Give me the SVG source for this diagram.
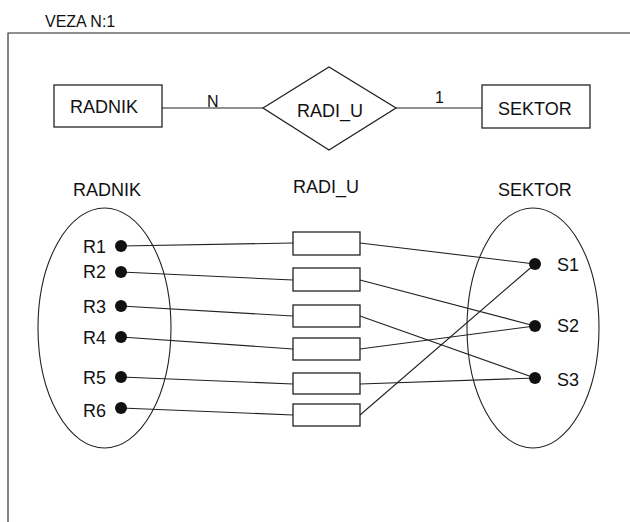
<svg xmlns="http://www.w3.org/2000/svg" width="630" height="522" viewBox="0 0 630 522">
<style>
text{font-family:"Liberation Sans",Arial,sans-serif;fill:#111}
.t{font-size:18px}
.s{font-size:16px}
.sh{fill:#fff;stroke:#222;stroke-width:1.3}
.ln{stroke:#222;stroke-width:1.1;fill:none}
.dot{fill:#111}
</style>
<rect width="630" height="522" fill="#fff"/>
<g id="frame">
<text class="s" x="45" y="27">VEZA N:1</text>
<path class="ln" d="M8,522 V33 H630" stroke-width="1.3"/>
</g>
<g id="connectors">
<line class="ln" x1="162" y1="108" x2="263" y2="108"/>
<line class="ln" x1="396" y1="108" x2="482" y2="108"/>
<line class="ln" x1="121" y1="246" x2="293" y2="243"/>
<line class="ln" x1="121" y1="272" x2="293" y2="280"/>
<line class="ln" x1="121" y1="306" x2="293" y2="316"/>
<line class="ln" x1="121" y1="337" x2="293" y2="349"/>
<line class="ln" x1="121" y1="377" x2="293" y2="384"/>
<line class="ln" x1="121" y1="408" x2="293" y2="415"/>
<line class="ln" x1="360" y1="243" x2="535" y2="264"/>
<line class="ln" x1="360" y1="280" x2="535" y2="326"/>
<line class="ln" x1="360" y1="316" x2="535" y2="378"/>
<line class="ln" x1="360" y1="349" x2="535" y2="326"/>
<line class="ln" x1="360" y1="384" x2="535" y2="378"/>
<line class="ln" x1="360" y1="415" x2="535" y2="264"/>
<text class="s" x="207" y="107">N</text>
<text class="s" x="435" y="103">1</text>
</g>
<g id="radnik">
<rect class="sh" x="54" y="85" width="108" height="42"/>
<text class="t" x="70" y="113">RADNIK</text>
</g>
<g id="radi_u">
<polygon class="sh" points="263,108 329,67 396,108 329,150"/>
<text class="t" x="297" y="117">RADI_U</text>
</g>
<g id="sektor">
<rect class="sh" x="482" y="85" width="108" height="43"/>
<text class="t" x="498" y="115">SEKTOR</text>
</g>
<g id="radnik-set">
<text class="t" x="73" y="196">RADNIK</text>
<ellipse class="ln" cx="104.5" cy="328" rx="66.5" ry="120"/>
<circle class="dot" cx="121" cy="246" r="6"/>
<circle class="dot" cx="121" cy="272" r="6"/>
<circle class="dot" cx="121" cy="306" r="6"/>
<circle class="dot" cx="121" cy="337" r="6"/>
<circle class="dot" cx="121" cy="377" r="6"/>
<circle class="dot" cx="121" cy="408" r="6"/>
<text class="t" x="83" y="253">R1</text>
<text class="t" x="83" y="278">R2</text>
<text class="t" x="83" y="313">R3</text>
<text class="t" x="83" y="344">R4</text>
<text class="t" x="83" y="384">R5</text>
<text class="t" x="83" y="417">R6</text>
</g>
<g id="radi_u-set">
<text class="t" x="293" y="193">RADI_U</text>
<rect class="sh" x="293" y="232" width="67" height="23"/>
<rect class="sh" x="293" y="268" width="67" height="23"/>
<rect class="sh" x="293" y="305" width="67" height="22"/>
<rect class="sh" x="293" y="338" width="67" height="22"/>
<rect class="sh" x="293" y="373" width="67" height="21"/>
<rect class="sh" x="293" y="404" width="67" height="22"/>
</g>
<g id="sektor-set">
<text class="t" x="498" y="196">SEKTOR</text>
<ellipse class="ln" cx="533" cy="328" rx="66" ry="120"/>
<circle class="dot" cx="535" cy="264" r="6"/>
<circle class="dot" cx="535" cy="326" r="6"/>
<circle class="dot" cx="535" cy="378" r="6"/>
<text class="t" x="557" y="271">S1</text>
<text class="t" x="557" y="332">S2</text>
<text class="t" x="557" y="386">S3</text>
</g>
</svg>
